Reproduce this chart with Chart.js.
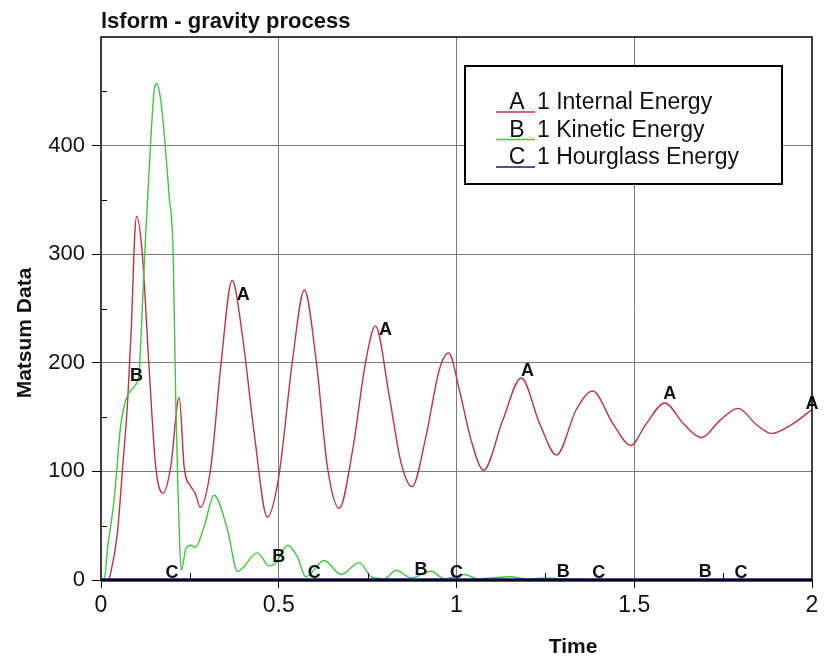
<!DOCTYPE html>
<html>
<head>
<meta charset="utf-8">
<script src="https://cdn.jsdelivr.net/npm/chart.js@4/dist/chart.umd.min.js"></script>
<style>
  html, body { margin: 0; padding: 0; background: #fff; }
</style>
</head>
<body>
<canvas id="chart" width="824" height="665"></canvas>
<script>
// A 1 Internal Energy
const timeA = [0, 0.02, 0.027, 0.046, 0.06, 0.075, 0.085, 0.095, 0.1, 0.116, 0.135, 0.154, 0.175, 0.196, 0.22,
  0.234, 0.253, 0.265, 0.279, 0.309, 0.337, 0.369, 0.397, 0.431, 0.468, 0.5, 0.539, 0.572, 0.605, 0.637, 0.67,
  0.708, 0.744, 0.772, 0.811, 0.844, 0.875, 0.914, 0.952, 0.978, 1.008, 1.041, 1.076, 1.13, 1.182, 1.234, 1.281,
  1.337, 1.383, 1.44, 1.49, 1.534, 1.586, 1.638, 1.689, 1.741, 1.792, 1.844, 1.886, 1.947, 2.0];
const energyA = [0, 0, 6, 43, 100, 165, 230, 318, 335, 301, 197, 104, 80, 104, 168,
  104, 86, 80, 67, 104, 197, 276, 227, 135, 58, 95, 203, 267, 203, 104, 66,
  120, 200, 234, 169, 108, 86, 132, 194, 209, 175, 129, 101, 147, 186, 144, 115,
  157, 174, 144, 124, 144, 163, 144, 131, 147, 158, 143, 135, 144, 157];

// B 1 Kinetic Energy
const timeB = [0, 0.01, 0.018, 0.037, 0.055, 0.07, 0.093, 0.107, 0.116, 0.126, 0.14, 0.149, 0.157, 0.168, 0.18,
  0.191, 0.203, 0.21, 0.216, 0.221, 0.226, 0.239, 0.253, 0.265, 0.29, 0.318, 0.356, 0.384, 0.44, 0.473, 0.49,
  0.525, 0.553, 0.576, 0.628, 0.675, 0.727, 0.76, 0.797, 0.83, 0.872, 0.929, 0.966, 1.022, 1.06, 1.1, 1.15,
  1.2, 1.25, 1.3, 1.4, 1.5, 2.0];
const energyB = [0, 2, 28, 74, 141, 166, 178, 190, 249, 320, 405, 449, 457, 442, 403,
  356, 301, 170, 90, 35, 9, 29, 32, 30, 49, 78, 46, 8, 25, 13, 15,
  32, 21, 3, 18, 5, 16, 3, 1, 9, 2, 8, 1, 5, 1, 2, 3,
  1, 2, 1, 0.5, 0, 0];

// C 1 Hourglass Energy
const timeC = [0, 0.5, 1, 1.5, 2];
const energyC = [0, 0, 0, 0, 0];

// curve letter markers
const markTimeA = [0.4, 0.8, 1.2, 1.6, 2.0];
const markValueA = [262, 230, 192, 171, 162];
const markTimeB = [0.1, 0.5, 0.9, 1.3, 1.7];
const markValueB = [188, 21, 9, 7, 7];
const markTimeC = [0.2, 0.6, 1.0, 1.4, 1.8];
const markValueC = [6, 6, 6, 6, 6];

const seriesLetters = ['A', 'B', 'C'];
const seriesNames = ['1 Internal Energy', '1 Kinetic Energy', '1 Hourglass Energy'];
const seriesColors = ['#c4323e', '#3ec83e', '#16166e'];

const FONT = '"Liberation Sans", Arial, sans-serif';

function toPoints(ts, vs) {
  return ts.map((t, i) => ({ x: t, y: vs[i] }));
}

const marks = [
  { t: markTimeA, v: markValueA },
  { t: markTimeB, v: markValueB },
  { t: markTimeC, v: markValueC },
];

const decorPlugin = {
  id: 'decor',
  afterDatasetsDraw(chart) {
    const { ctx, scales } = chart;
    const xs = scales.x;
    const ys = scales.y;

    // letters along the curves
    ctx.save();
    ctx.fillStyle = '#111';
    ctx.font = 'bold 18px ' + FONT;
    ctx.textAlign = 'center';
    ctx.textBaseline = 'middle';
    marks.forEach((m, k) => {
      m.t.forEach((t, i) => {
        ctx.fillText(seriesLetters[k], xs.getPixelForValue(t), ys.getPixelForValue(m.v[i]));
      });
    });
    ctx.restore();

    // legend box
    ctx.save();
    const bx = 465, by = 66, bw = 317, bh = 118;
    ctx.fillStyle = '#fff';
    ctx.fillRect(bx, by, bw, bh);
    ctx.strokeStyle = '#000';
    ctx.lineWidth = 2;
    ctx.strokeRect(bx, by, bw, bh);
    ctx.font = '23px ' + FONT;
    ctx.textBaseline = 'middle';
    seriesLetters.forEach((letter, i) => {
      const cy = 103 + i * 27.5;
      ctx.strokeStyle = seriesColors[i];
      ctx.lineWidth = 1.5;
      ctx.beginPath();
      ctx.moveTo(496, cy + 9);
      ctx.lineTo(535, cy + 9);
      ctx.stroke();
      ctx.fillStyle = '#111';
      ctx.textAlign = 'center';
      ctx.fillText(letter, 517, cy);
      ctx.textAlign = 'left';
      ctx.fillText(seriesNames[i], 537, cy);
    });
    ctx.restore();
  },
  afterDraw(chart) {
    const { ctx, chartArea: a, scales } = chart;
    ctx.save();
    // plot frame
    ctx.strokeStyle = '#000';
    ctx.lineWidth = 1.5;
    ctx.strokeRect(a.left, a.top, a.right - a.left, a.bottom - a.top);

    // minor ticks
    ctx.lineWidth = 1;
    [50, 150, 250, 350, 450].forEach((v) => {
      const y = Math.round(scales.y.getPixelForValue(v)) + 0.5;
      ctx.beginPath();
      ctx.moveTo(a.left, y);
      ctx.lineTo(a.left + 6, y);
      ctx.stroke();
    });
    [0.25, 0.75, 1.25, 1.75].forEach((t) => {
      const x = Math.round(scales.x.getPixelForValue(t)) + 0.5;
      ctx.beginPath();
      ctx.moveTo(x, a.bottom);
      ctx.lineTo(x, a.bottom - 7);
      ctx.stroke();
    });

    // titles
    ctx.fillStyle = '#111';
    ctx.font = 'bold 22px ' + FONT;
    ctx.textAlign = 'left';
    ctx.textBaseline = 'alphabetic';
    ctx.fillText('lsform - gravity process', 101, 28);

    ctx.font = 'bold 21px ' + FONT;
    ctx.textAlign = 'center';
    ctx.textBaseline = 'middle';
    ctx.fillText('Time', 573, 647);

    ctx.translate(25, 333);
    ctx.rotate(-Math.PI / 2);
    ctx.fillText('Matsum Data', 0, 0);
    ctx.restore();
  },
};

const gridGray = '#7a7a7a';

new Chart(document.getElementById('chart').getContext('2d'), {
  type: 'line',
  data: {
    datasets: [
      {
        label: seriesNames[0],
        data: toPoints(timeA, energyA),
        borderColor: seriesColors[0],
        borderWidth: 1.4,
        pointRadius: 0,
        cubicInterpolationMode: 'monotone',
        order: 2,
      },
      {
        label: seriesNames[1],
        data: toPoints(timeB, energyB),
        borderColor: seriesColors[1],
        borderWidth: 1.4,
        pointRadius: 0,
        cubicInterpolationMode: 'monotone',
        order: 1,
      },
      {
        label: seriesNames[2],
        data: toPoints(timeC, energyC),
        borderColor: seriesColors[2],
        borderWidth: 3.5,
        pointRadius: 0,
        order: 0,
        clip: 4,
      },
    ],
  },
  options: {
    responsive: false,
    animation: false,
    layout: { padding: { top: 37, right: 12, left: 0, bottom: 0 } },
    plugins: {
      legend: { display: false },
      tooltip: { enabled: false },
    },
    scales: {
      x: {
        type: 'linear',
        min: 0,
        max: 2,
        afterFit(scale) { scale.height = 85; },
        border: { display: false },
        grid: {
          color: (c) => (c.tick && c.tick.value > 0 && c.tick.value < 2 ? gridGray : 'rgba(0,0,0,0)'),
          tickColor: '#000',
          tickLength: 8,
        },
        ticks: {
          stepSize: 0.5,
          maxRotation: 0,
          autoSkip: false,
          color: '#111',
          padding: 4,
          font: { family: FONT, size: 23 },
          callback: (v) => String(v),
        },
      },
      y: {
        min: 0,
        max: 500,
        afterFit(scale) { scale.width = 101; },
        border: { display: false },
        grid: {
          color: (c) => (c.tick && c.tick.value > 0 && c.tick.value < 500 ? gridGray : 'rgba(0,0,0,0)'),
          tickColor: (c) => (c.tick && c.tick.value < 500 ? '#000' : 'rgba(0,0,0,0)'),
          tickLength: 9,
        },
        ticks: {
          stepSize: 100,
          color: '#111',
          padding: 7,
          font: { family: FONT, size: 22 },
          callback: (v) => (v === 500 ? '' : v),
        },
      },
    },
  },
  plugins: [decorPlugin],
});
</script>
</body>
</html>
